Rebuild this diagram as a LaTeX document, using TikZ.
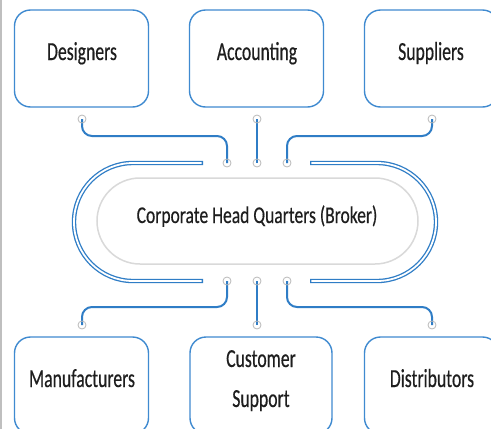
\documentclass[tikz,border=0pt]{standalone}
\usepackage{fontspec}
\setmainfont[FakeStretch=0.68,FakeBold=0.4]{Carlito}
\newfontfamily\hqfont[FakeStretch=0.73,FakeBold=0.4]{Carlito}
\definecolor{boxblue}{HTML}{3F8AD0}
\definecolor{lineblue}{HTML}{2F7DC6}
\definecolor{txt}{HTML}{1E1E1E}
\begin{document}
\begin{tikzpicture}[x=1pt,y=-1pt,
  box/.style={draw=boxblue, line width=1.4pt, rounded corners=16pt, minimum width=134pt, minimum height=97pt, inner sep=0pt, fill=white},
  lbl/.style={font=\fontsize{26}{30}\selectfont, text=txt, anchor=base, inner sep=0pt},
  conn/.style={draw=lineblue, line width=2pt, rounded corners=10pt},
  port/.style={circle, draw=gray!55, line width=0.8pt, minimum size=8pt, inner sep=0pt},
  ringout/.style={draw=lineblue, line width=4.4pt, rounded corners=59pt},
  ringin/.style={draw=white, line width=1.8pt, rounded corners=59pt, shorten <=1.3pt, shorten >=1.3pt}]
\useasboundingbox (0,0) rectangle (491,429);
\clip (0,0) rectangle (491,429);
\fill[white] (0,0) rectangle (491,429);
\draw[gray!50, line width=1.5pt] (0.75,0) -- (0.75,429);
% boxes
\node[box] (des) at (81.5,58.5) {};
\node[box] (acc) at (256.5,58.5) {};
\node[box] (sup) at (431.5,58.5) {};
\node[box] (man) at (81.5,385.5) {};
\node[box, minimum width=142pt] (cus) at (261,385.5) {};
\node[box] (dis) at (431.5,385.5) {};
\node[lbl] (des-t) at (82,60) {Designers};
\node[lbl] (acc-t) at (257,60) {Accounting};
\node[lbl] (sup-t) at (431,60) {Suppliers};
\node[lbl] (man-t) at (82,387) {Manufacturers};
\node[lbl] (cus-t1) at (261,367) {Customer};
\node[lbl] (cus-t2) at (261,407) {Support};
\node[lbl] (dis-t) at (432,387) {Distributors};
% center
\node[draw=gray!30, line width=1.5pt, rounded corners=43pt, minimum width=321pt, minimum height=86pt] (hq) at (257.5,221) {};
\node[lbl, font=\hqfont\fontsize{24}{28}\selectfont] (hq-t) at (257,223) {Corporate Head Quarters (Broker)};
\draw[ringout] (203,163) -- (74,163) -- (74,281) -- (203,281);
\draw[ringin] (203,163) -- (74,163) -- (74,281) -- (203,281);
\draw[ringout] (310,163) -- (436,163) -- (436,281) -- (310,281);
\draw[ringin] (310,163) -- (436,163) -- (436,281) -- (310,281);
% port coordinates
\coordinate (a1) at (82,119);
\coordinate (a2) at (257,119);
\coordinate (a3) at (432,119);
\coordinate (b1) at (227,163);
\coordinate (b2) at (257,163);
\coordinate (b3) at (287,163);
\coordinate (c1) at (227,281);
\coordinate (c2) at (257,281);
\coordinate (c3) at (287,281);
\coordinate (d1) at (82,325);
\coordinate (d2) at (257,325);
\coordinate (d3) at (432,325);
\draw[conn] (a1) -- ++(0,17) -| (b1);
\draw[conn] (a2) -- (b2);
\draw[conn] (a3) -- ++(0,17) -| (b3);
\draw[conn] (c1) -- ++(0,26) -| (d1);
\draw[conn] (c2) -- (d2);
\draw[conn] (c3) -- ++(0,26) -| (d3);
\foreach \p in {a1,a2,a3,b1,b2,b3,c1,c2,c3,d1,d2,d3} {\node[port] (port-\p) at (\p) {};}
\end{tikzpicture}
\end{document}
